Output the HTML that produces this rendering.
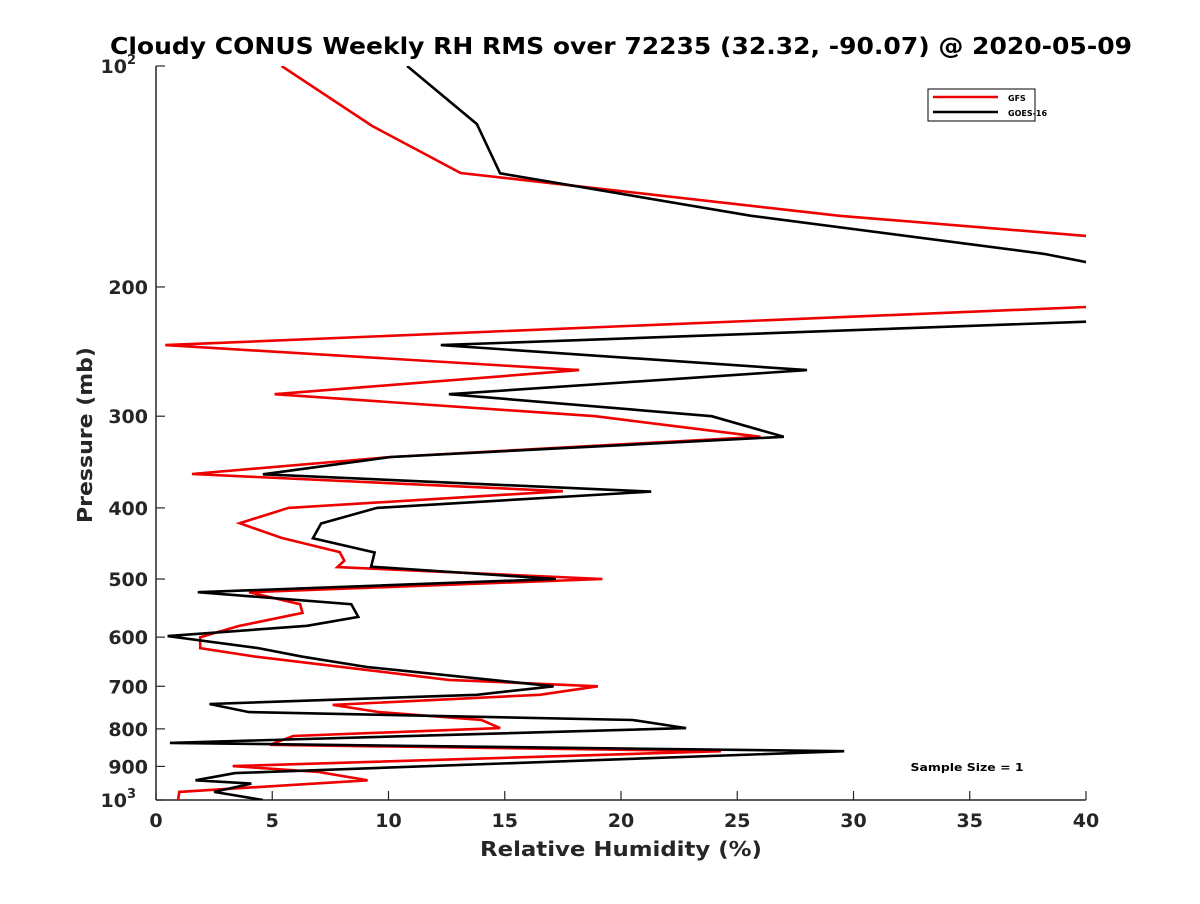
<!DOCTYPE html>
<html><head><meta charset="utf-8"><style>
body{margin:0;background:#fff;font-family:"DejaVu Sans","Liberation Sans",sans-serif}
</style></head><body>
<svg id="chart" width="1200" height="900" xmlns="http://www.w3.org/2000/svg" font-family="DejaVu Sans, Liberation Sans, sans-serif">
<rect width="1200" height="900" fill="#fff"/>
<defs><clipPath id="clip"><rect x="156" y="66" width="930" height="734"/></clipPath></defs>
<g id="axes"></g>
<g id="series" clip-path="url(#clip)"></g>
<text x="621" y="54" text-anchor="middle" font-size="23" font-weight="bold" textLength="1022" lengthAdjust="spacingAndGlyphs">Cloudy CONUS Weekly RH RMS over 72235 (32.32, -90.07) @ 2020-05-09</text>
<text x="621" y="856" text-anchor="middle" font-size="20" font-weight="bold" fill="#262626" textLength="282" lengthAdjust="spacingAndGlyphs">Relative Humidity (%)</text>
<text transform="translate(92,435) rotate(-90)" text-anchor="middle" font-size="20" font-weight="bold" fill="#262626" textLength="176" lengthAdjust="spacingAndGlyphs">Pressure (mb)</text>
<text x="967" y="771" text-anchor="middle" font-size="11" font-weight="bold" textLength="113" lengthAdjust="spacingAndGlyphs">Sample Size = 1</text>
<g>
<rect x="928" y="89" width="107" height="32" fill="#fff" stroke="#000" stroke-width="1"/>
<line x1="933" y1="97" x2="998" y2="97" stroke="#e00" stroke-width="2.5"/>
<text x="1008" y="101" font-size="8" font-weight="bold">GFS</text>
<line x1="933" y1="112" x2="998" y2="112" stroke="#000" stroke-width="2.5"/>
<text x="1008" y="116" font-size="8" font-weight="bold">GOES-16</text>
</g>
</svg>
<script>
const xTicks=[0,5,10,15,20,25,30,35,40];
const yTicks=[100,200,300,400,500,600,700,800,900,1000];
const yTickLabels=["10^2","200","300","400","500","600","700","800","900","10^3"];
const gfsP=[100,120.7,139.9,160,170.4,180,200,213,240,259.6,280,300,320,341,359.6,379.6,400,419.6,439.5,459.5,472,481.6,500,521,541,556,579,600,621,638,686,700,719,742,759,778,798,818,841,858,899,916,940,975,1000];
const gfsV=[5.4,9.3,13.1,29.4,40,60,60,40,0.4,18.2,5.1,18.9,26,10.1,1.55,17.5,5.7,3.6,5.4,7.9,8.1,7.8,19.2,4,6.2,6.3,3.6,1.9,1.9,4.3,12.6,19,16.5,7.6,9.6,14,14.8,5.9,4.9,24.3,3.3,7,9.1,1,0.95];
const goesP=[100,120,140,160,180.3,185,195,215,223,240,259.6,280,300,320,341,360,380,400,420,440,460,481,500,521,541,563,579,598,621,638,659,700,719,740,759,778,798,836,858,919,940,950,975,1000];
const goesV=[10.8,13.8,14.8,25.6,38.2,40,50,50,40,12.25,28,12.6,23.9,27,10.1,4.6,21.3,9.5,7.1,6.75,9.4,9.25,17.2,1.8,8.4,8.7,6.5,0.5,4.4,6.3,9.1,17.1,13.8,2.3,4,20.5,22.8,0.6,29.6,3.4,1.7,4.1,2.5,4.6];
const NS="http://www.w3.org/2000/svg";
const X0=156,X1=1086,Y0=66,Y1=800;
const xs=v=>X0+(v/40)*(X1-X0);
const ys=p=>Y0+(Math.log10(p)-2)*(Y1-Y0);
function mk(t,a,parent){const e=document.createElementNS(NS,t);for(const k in a)e.setAttribute(k,a[k]);parent.appendChild(e);return e;}
const ax=document.getElementById('axes');
const sr=document.getElementById('series');
const xa=mk('line',{x1:X0,y1:Y1,x2:X1,y2:Y1,stroke:'#262626','stroke-width':1.5},ax);


const ya=mk('line',{x1:X0,y1:Y0,x2:X0,y2:Y1,stroke:'#262626','stroke-width':1.5},ax);


xTicks.forEach(v=>{
  mk('line',{x1:xs(v),y1:Y1,x2:xs(v),y2:Y1-9,stroke:'#262626','stroke-width':1.2},ax);
  const t=mk('text',{x:xs(v),y:Y1+27,'text-anchor':'middle','font-size':19,'font-weight':'bold',fill:'#262626'},ax);
  t.textContent=v;
  
  
});
yTicks.forEach((p,i)=>{
  const y=ys(p);
  mk('line',{x1:X0,y1:y,x2:X0+9,y2:y,stroke:'#262626','stroke-width':1.2},ax);
  const lab=yTickLabels[i];
  const t=mk('text',{x:X0-8,y:y+7,'text-anchor':'end','font-size':19,'font-weight':'bold',fill:'#262626'},ax);
  if(lab.indexOf('^')>0){const [b,e]=lab.split('^');t.textContent=b;const s=mk('tspan',{dy:-9,'font-size':13},t);s.textContent=e;t.setAttribute('x',X0-20);}
  else t.textContent=lab;
  
  
});
function line(P,V,col,name){
  const pts=P.map((p,i)=>xs(V[i]).toFixed(1)+','+ys(p).toFixed(1)).join(' ');
  const l=mk('polyline',{points:pts,fill:'none',stroke:col,'stroke-width':2.6,'stroke-linejoin':'miter'},sr);
  
  
}
line(gfsP,gfsV,'#e00','gfs-line');
line(goesP,goesV,'#000','goes16-line');
</script>
</body></html>
